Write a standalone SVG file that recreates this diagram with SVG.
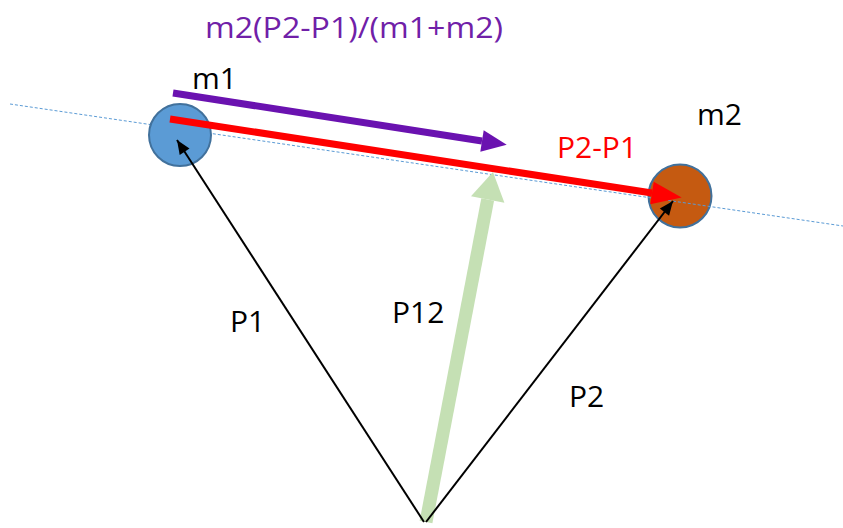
<svg xmlns="http://www.w3.org/2000/svg" width="843" height="528" viewBox="0 0 843 528">
<style>
text{font-family:"Open Sans","Liberation Sans",sans-serif;font-size:30px;fill:#000}
.pur{fill:#7020A8}
.red{fill:#FF0000}
.thin{stroke:#000;stroke-width:2;fill:none}
</style>
<defs>
<marker id="hBlack" markerUnits="userSpaceOnUse" orient="auto" markerWidth="14" markerHeight="12" refX="12" refY="5" viewBox="0 0 12 10" overflow="visible"><path d="M0,0 L12,5 L0,10 z" fill="#000"/></marker>
<marker id="hRed" markerUnits="userSpaceOnUse" orient="auto" markerWidth="30" markerHeight="24" refX="0" refY="11" viewBox="0 0 29 22" overflow="visible"><path d="M0,0 L29,11 L0,22 z" fill="#FF0000"/></marker>
<marker id="hPur" markerUnits="userSpaceOnUse" orient="auto" markerWidth="26" markerHeight="22" refX="0" refY="11" viewBox="0 0 25 22" overflow="visible"><path d="M0,0 L25,11 L0,22 z" fill="#6A12B0"/></marker>
<marker id="hGreen" markerUnits="userSpaceOnUse" orient="auto" markerWidth="28" markerHeight="36" refX="0" refY="17" viewBox="0 0 28 34" overflow="visible"><path d="M0,0 L28,17 L0,34 z" fill="#C5E0B4"/></marker>
</defs>
<g id="m2">
<circle cx="680" cy="196" r="31.5" fill="#C55A11" stroke="#41719C" stroke-width="2"/>
</g>
<g id="axis">
<line x1="10" y1="104" x2="843" y2="226" stroke="#5B9BD5" stroke-width="1" stroke-dasharray="3 2"/>
</g>
<g id="m1">
<circle cx="180" cy="135" r="31" fill="#5B9BD5" stroke="#41719C" stroke-width="2"/>
</g>
<g id="connectors">
<line x1="426" y1="522" x2="487.7" y2="199.5" stroke="#C5E0B4" stroke-width="13" marker-end="url(#hGreen)"/>
<line class="thin" x1="424" y1="522" x2="177" y2="140" marker-end="url(#hBlack)"/>
<line class="thin" x1="426" y1="522" x2="673" y2="201" marker-end="url(#hBlack)"/>
<line x1="170" y1="119" x2="652" y2="193" stroke="#FF0000" stroke-width="7" marker-end="url(#hRed)"/>
<line x1="173" y1="93" x2="482" y2="141" stroke="#6A12B0" stroke-width="7" marker-end="url(#hPur)"/>
</g>
<g id="labels">
<text class="pur" x="205" y="38" textLength="298" lengthAdjust="spacingAndGlyphs">m2(P2-P1)/(m1+m2)</text>
<text x="192" y="89">m1</text>
<text x="697" y="125">m2</text>
<text class="red" x="557" y="158">P2-P1</text>
<text x="230" y="332">P1</text>
<text x="392" y="323">P12</text>
<text x="569" y="407">P2</text>
</g>
</svg>
